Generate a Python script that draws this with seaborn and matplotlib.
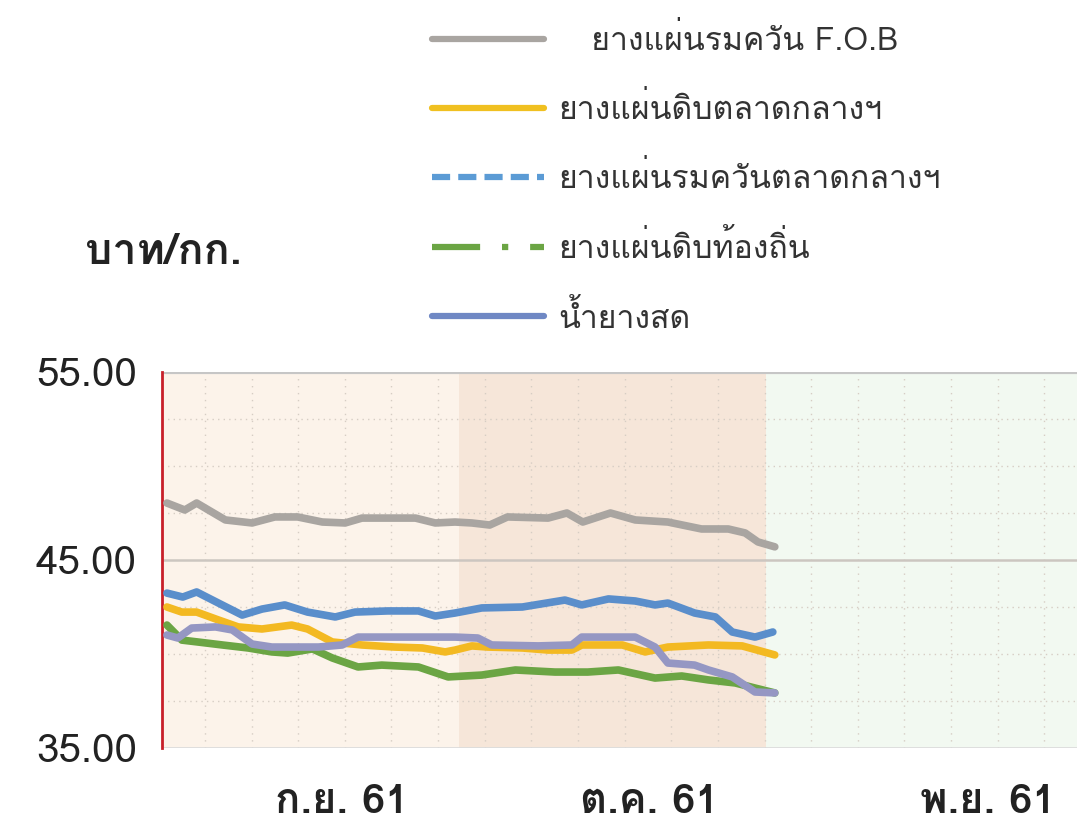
import numpy as np
import pandas as pd
import matplotlib
matplotlib.use("Agg")
import matplotlib.pyplot as plt
from matplotlib import font_manager, ft2font
from matplotlib.lines import Line2D
import seaborn as sns

# day index counted from 1 Sep 2018 (Sep = 0..30, Oct = 30..61, Nov = 61..91)
fob_x = [0.5, 2.3, 3.5, 6.4, 9.1, 11.4, 13.7, 16.2, 18.5, 20.2, 22.8, 25.6, 27.6, 29.6,
         31.3, 33.1, 34.9, 39.0, 40.9, 42.5, 45.3, 47.8, 51.1, 54.5, 57.2, 58.9, 60.2, 61.9]
fob_y = [48.03, 47.66, 48.03, 47.13, 46.97, 47.29, 47.29, 47.02, 46.97, 47.23, 47.23, 47.23, 46.97, 47.02,
         46.97, 46.86, 47.29, 47.23, 47.5, 47.02, 47.5, 47.13, 47.02, 46.65, 46.65, 46.44, 45.96, 45.7]

rss_x = [0.5, 2.1, 3.5, 5.7, 8.1, 10.1, 12.4, 14.7, 17.5, 19.5, 22.8, 25.9, 27.6, 29.6,
         32.3, 36.4, 40.7, 42.4, 45.1, 47.8, 49.8, 51.1, 53.8, 55.9, 57.6, 59.9, 61.7]
rss_y = [43.24, 43.03, 43.30, 42.71, 42.07, 42.39, 42.61, 42.23, 41.97, 42.23, 42.29, 42.29, 42.02, 42.18,
         42.45, 42.5, 42.87, 42.61, 42.93, 42.82, 42.61, 42.71, 42.18, 41.97, 41.17, 40.90, 41.17]

usm_x = [0.5, 2.0, 3.5, 5.7, 7.7, 10.1, 13.1, 14.7, 17.2, 20.2, 23.5, 26.3, 28.6, 29.6,
         31.3, 32.9, 36.4, 39.0, 41.4, 42.4, 46.5, 48.8, 51.1, 55.2, 58.6, 61.9]
usm_y = [42.50, 42.23, 42.23, 41.81, 41.44, 41.33, 41.54, 41.33, 40.64, 40.48, 40.37, 40.32, 40.11, 40.21,
         40.43, 40.37, 40.32, 40.21, 40.21, 40.48, 40.48, 40.11, 40.37, 40.48, 40.43, 39.95]

latex_x = [0.5, 1.6, 3.0, 5.4, 7.1, 9.1, 11.1, 13.7, 15.8, 18.2, 19.8, 22.8, 26.3, 29.6,
           31.9, 33.3, 38.0, 41.4, 42.4, 47.8, 49.8, 51.1, 53.8, 55.2, 57.6, 59.9, 61.9]
latex_y = [41.01, 40.85, 41.38, 41.44, 41.28, 40.53, 40.37, 40.37, 40.37, 40.48, 40.90, 40.90, 40.90, 40.90,
           40.85, 40.48, 40.43, 40.48, 40.90, 40.90, 40.37, 39.52, 39.41, 39.15, 38.78, 37.98, 37.93]

local_x = [0.5, 2.0, 3.6, 6.1, 8.7, 11.1, 12.7, 15.2, 17.2, 19.8, 22.2, 25.9, 28.9,
           32.3, 35.7, 39.7, 43.0, 46.1, 49.8, 52.5, 55.2, 57.9, 59.9, 61.9]
local_y = [41.54, 40.74, 40.64, 40.48, 40.32, 40.11, 40.05, 40.27, 39.79, 39.31, 39.41, 39.31, 38.78,
           38.88, 39.15, 39.04, 39.04, 39.15, 38.72, 38.83, 38.62, 38.46, 38.19, 37.93]

labels = ["ยางแผ่นรมควัน F.O.B", "ยางแผ่นดิบตลาดกลางฯ", "ยางแผ่นรมควันตลาดกลางฯ",
          "ยางแผ่นดิบท้องถิ่น", "น้ำยางสด"]
month_pos = [18.2, 49.2, 83.4]
month_labels = ["ก.ย. 61", "ต.ค. 61", "พ.ย. 61"]
y_ticks = [35, 45, 55]

# find a font that has Thai glyphs
thai_fonts = []
for f in font_manager.fontManager.ttflist:
    try:
        cmap = ft2font.FT2Font(f.fname).get_charmap()
    except Exception:
        continue
    if 0x0E01 in cmap and f.name not in thai_fonts:
        thai_fonts.append(f.name)

sns.set_style("white")
plt.rcParams['font.family'] = thai_fonts + ['DejaVu Sans']

series = [
    (fob_x, fob_y, "#a9a5a1"),
    (usm_x, usm_y, "#f3b922"),
    (rss_x, rss_y, "#5a8ecb"),
    (local_x, local_y, "#6ba544"),
    (latex_x, latex_y, "#9597c3"),
]

fig = plt.figure(figsize=(10.77, 8.34), dpi=100)
ax = fig.add_axes([162 / 1077, 1 - 748 / 834, 1 - 162 / 1077, (748 - 372) / 834])

ax.axvspan(0, 30, color="#fcf3ea", lw=0, zorder=0)
ax.axvspan(30, 61, color="#f6e6d9", lw=0, zorder=0)
ax.axvspan(61, 100, color="#f2f9f1", lw=0, zorder=0)

for v in [37.5, 40, 42.5, 47.5, 50, 52.5]:
    ax.axhline(v, color="#d6cdc4", lw=1, ls=(0, (1, 3)), zorder=1)
for v in np.arange(4.34, 95, 4.71):
    ax.axvline(v, color="#d6cdc4", lw=1, ls=(0, (1, 4)), zorder=1)
ax.axhline(45, color="#ccc6c0", lw=1.8, zorder=1)
ax.axhline(55, color="#c6c6c6", lw=3, zorder=1)
ax.axhline(35, color="#dcdcdc", lw=2, zorder=1)

for xs, ys, c in series:
    sns.lineplot(x=xs, y=ys, color=c, lw=5.5, ax=ax, zorder=3)

ax.set_xlim(0, (1077 - 162) / 9.9)
ax.set_ylim(35, 55)
ax.set_yticks(y_ticks)
ax.set_yticklabels([f"{v:.2f}" for v in y_ticks], fontsize=29, color="#222222")
ax.set_xticks(month_pos)
ax.set_xticklabels(month_labels, fontsize=30, color="#222222", fontweight="bold")
ax.tick_params(axis="x", length=0, pad=26)
ax.tick_params(axis="y", direction="in", length=10, width=2, color="#c8202a", pad=18)
for s in ["top", "right", "bottom"]:
    ax.spines[s].set_visible(False)
ax.spines["left"].set_color("#c8202a")
ax.spines["left"].set_linewidth(2)
ax.set_xlabel("")
ax.set_ylabel("")

fig.text(85 / 1077, 1 - 253 / 834, "บาท/กก.", fontsize=31, fontweight="bold",
         color="#222222", ha="left", va="center")

handles = [
    Line2D([], [], color="#a9a5a1", lw=4.5),
    Line2D([], [], color="#f0c020", lw=4.5),
    Line2D([], [], color="#5b9bd5", lw=4.5, ls=(0, (2.9, 1.3))),
    Line2D([], [], color="#6ba544", lw=4.5, ls=(0, (7.7, 3.5, 1, 3.5))),
    Line2D([], [], color="#6f88c4", lw=4.5),
]
leg_labels = ["   " + labels[0]] + labels[1:]
fig.legend(handles, leg_labels, loc="upper left", bbox_to_anchor=(426 / 1077, 1 - 18 / 834),
           frameon=False, fontsize=23, handlelength=3.5, handletextpad=0.45,
           labelspacing=1.12, borderpad=0.2, borderaxespad=0, labelcolor="#333333")

fig.savefig("out.png", dpi=100)
